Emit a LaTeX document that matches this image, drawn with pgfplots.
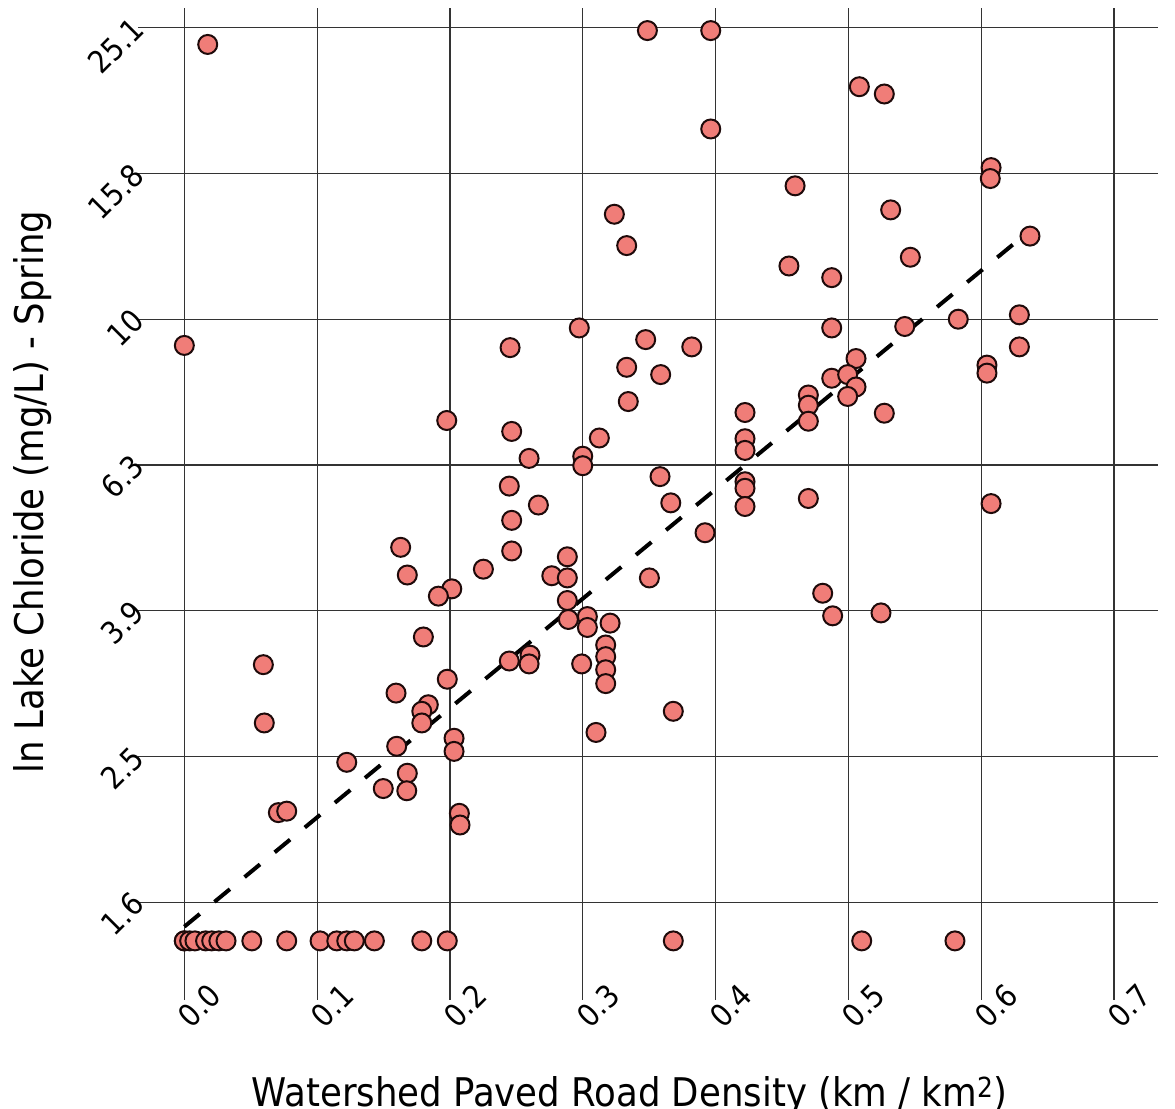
\documentclass[border=0pt]{standalone}
\usepackage{fontspec}
\setmainfont{DejaVu Sans Condensed}
\usepackage{pgfplots}
\usepackage{pgfplotstable}
\pgfplotsset{compat=1.18}
\usetikzlibrary{calc}
\definecolor{dotfill}{RGB}{240,125,120}
\definecolor{dotedge}{RGB}{30,10,10}

% x = watershed paved road density (km/km^2), y = log10 of lake chloride (mg/L)
\pgfplotstableread{
x y
0.0000 0.147
0.0000 0.147
0.0040 0.147
0.0080 0.147
0.0160 0.147
0.0206 0.147
0.0260 0.147
0.0314 0.147
0.0508 0.147
0.0771 0.147
0.1022 0.147
0.1148 0.147
0.1223 0.147
0.1280 0.147
0.1431 0.147
0.1788 0.147
0.1980 0.147
0.3682 0.147
0.5101 0.147
0.5803 0.147
0.0176 1.377
0.0000 0.964
0.3487 1.396
0.3964 1.396
0.3964 1.261
0.3238 1.144
0.3331 1.101
0.2974 0.988
0.2453 0.961
0.3474 0.972
0.3821 0.962
0.3331 0.934
0.3587 0.924
0.5083 1.319
0.5271 1.309
0.6075 1.208
0.6069 1.193
0.4599 1.183
0.5319 1.150
0.6368 1.114
0.4553 1.073
0.4875 1.057
0.5467 1.085
0.4875 0.988
0.5425 0.990
0.5828 1.000
0.6288 1.006
0.6288 0.962
0.6044 0.937
0.6044 0.926
0.5058 0.946
0.4875 0.919
0.4995 0.924
0.5058 0.907
0.4699 0.896
0.4995 0.894
0.4699 0.882
0.4699 0.860
0.5271 0.871
0.4699 0.754
0.6075 0.747
0.4807 0.624
0.4882 0.593
0.5246 0.597
0.3343 0.887
0.4222 0.872
0.1976 0.861
0.2465 0.846
0.3125 0.837
0.4222 0.836
0.4222 0.820
0.2596 0.809
0.3000 0.812
0.3000 0.799
0.3582 0.784
0.2447 0.771
0.4222 0.777
0.4222 0.768
0.4222 0.743
0.3663 0.748
0.2666 0.745
0.2465 0.724
0.3921 0.707
0.1629 0.687
0.2465 0.682
0.2884 0.674
0.1679 0.649
0.2252 0.657
0.2767 0.648
0.2884 0.645
0.3502 0.645
0.2014 0.630
0.1913 0.620
0.2884 0.614
0.2892 0.588
0.3035 0.592
0.3035 0.577
0.3206 0.583
0.1800 0.564
0.3173 0.553
0.3173 0.537
0.3173 0.519
0.3173 0.500
0.2603 0.539
0.2596 0.527
0.2447 0.531
0.2992 0.527
0.1980 0.506
0.3682 0.462
0.3100 0.433
0.1594 0.487
0.1837 0.471
0.1788 0.462
0.1788 0.446
0.2031 0.425
0.2031 0.407
0.1599 0.414
0.1679 0.377
0.0595 0.526
0.0602 0.446
0.1223 0.392
0.1675 0.353
0.1498 0.356
0.0708 0.323
0.0771 0.325
0.2071 0.322
0.2076 0.306
}\points

\begin{document}
\begin{tikzpicture}
\begin{axis}[
  scale only axis, width=1020pt, height=992pt,
  xmin=-0.0349, xmax=0.7332, ymin=0.0659, ymax=1.427,
  axis line style={draw=none},
  tick style={draw=none},
  grid=major,
  major grid style={black!80, line width=1.2pt},
  xtick={0,0.1,0.2,0.3,0.4,0.5,0.6,0.7},
  xticklabels={0.0,0.1,0.2,0.3,0.4,0.5,0.6,0.7},
  ytick={0.2,0.4,0.6,0.8,1.0,1.2,1.4},
  yticklabels={1.6,2.5,3.9,6.3,10,15.8,25.1},
  xticklabel style={font=\fontsize{31}{31}\selectfont, inner sep=0pt, xshift=31pt, yshift=10pt, rotate=45, anchor=east},
  yticklabel style={font=\fontsize{31}{31}\selectfont, inner sep=0pt, xshift=0pt, yshift=4pt, rotate=45, anchor=east},
  xlabel={Watershed Paved Road Density (km / km\textsuperscript{2})},
  ylabel={ln Lake Chloride (mg/L) - Spring},
  xlabel style={at={(axis description cs:0.482,-0.107)}, anchor=base, font=\fontsize{39.5}{44}\selectfont},
  ylabel style={at={(axis description cs:-0.0922,0.512)}, anchor=base, font=\fontsize{39.5}{44}\selectfont},
  clip=false,
]
\addplot[only marks, mark=*, mark size=9.5pt, mark options={fill=dotfill, draw=dotedge, line width=2pt}] table[x=x, y=y] {\points};
\addplot[black, line width=4pt, dash pattern=on 20pt off 19pt] coordinates {(0,0.1665) (0.635,1.119)};
\end{axis}
\pgfresetboundingbox
\path[use as bounding box] ($(current axis.south west)+(-138pt,-109pt)$) rectangle ($(current axis.north east)+(17pt,8pt)$);
\end{tikzpicture}
\end{document}
